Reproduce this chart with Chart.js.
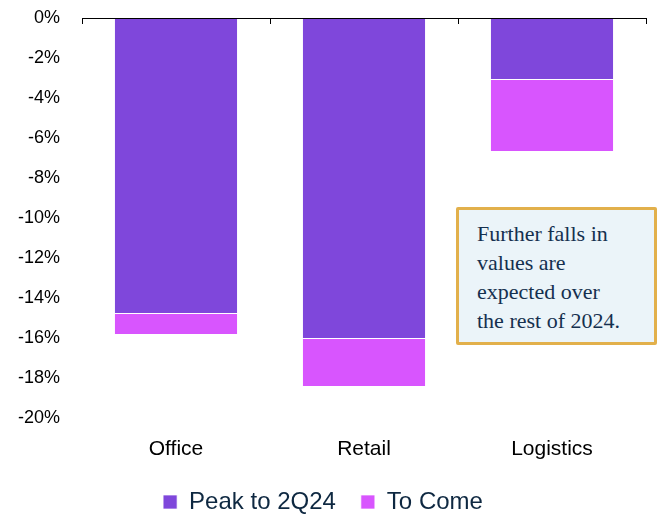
<!DOCTYPE html>
<html>
<head>
<meta charset="utf-8">
<script src="https://cdn.jsdelivr.net/npm/chart.js@4"></script>
<style>
  body { margin: 0; background: #fff; }
  #wrap { position: relative; width: 661px; height: 516px; }
  #note {
    position: absolute; left: 456px; top: 207px; width: 201px; height: 138px;
    box-sizing: border-box; border: 3px solid #e2b04b; background: #ebf4f9;
    border-radius: 2px;
    padding: 9px 6px 0 18px;
    font-family: "Liberation Serif", serif; font-size: 22px; line-height: 29px;
    color: #15304f;
  }
</style>
</head>
<body>
<div id="wrap">
  <canvas id="myChart"></canvas>
  <div id="note">Further falls in<br>values are<br>expected over<br>the rest of 2024.</div>
</div>
<script>
const categories = ['Office', 'Retail', 'Logistics'];
const peakTo2Q24 = [-14.8, -16.05, -3.1];
const toCome = [-1.05, -2.4, -3.6];
const yTicks = [0, -2, -4, -6, -8, -10, -12, -14, -16, -18, -20];

// x axis line sits at zero (top of chart) with ticks between categories
const topAxis = {
  id: 'topAxis',
  afterInit(chart) {
    // keep the legend compact even with wide gaps between items
    const legend = chart.legend;
    const fit = legend.fit.bind(legend);
    legend.fit = function () {
      fit();
      this.height = 51;
    };
  },
  afterDatasetsDraw(chart) {
    const { ctx, scales: { x, y } } = chart;
    const y0 = y.getPixelForValue(0);
    const half = (x.getPixelForTick(1) - x.getPixelForTick(0)) / 2;
    ctx.save();
    ctx.strokeStyle = '#000';
    ctx.lineWidth = 1;
    ctx.beginPath();
    ctx.moveTo(x.left, y0 + 0.5);
    ctx.lineTo(x.right, y0 + 0.5);
    for (let i = 0; i <= categories.length; i++) {
      const px = Math.round(x.getPixelForTick(0) - half + i * half * 2) + 0.5;
      ctx.moveTo(px, y0);
      ctx.lineTo(px, y0 + 6);
    }
    ctx.stroke();
    ctx.restore();
  }
};

const ctx = document.getElementById('myChart');
ctx.width = 661;
ctx.height = 516;
new Chart(ctx, {
  type: 'bar',
  data: {
    labels: categories,
    datasets: [{
      label: 'Peak to 2Q24',
      data: peakTo2Q24,
      backgroundColor: '#7f47db',
      borderColor: 'rgba(255,255,255,0.7)',
      borderWidth: 1,
      categoryPercentage: 1,
      barPercentage: 0.66
    }, {
      label: 'To Come',
      data: toCome,
      backgroundColor: '#d855fe',
      borderColor: 'rgba(255,255,255,0.7)',
      borderWidth: 1,
      categoryPercentage: 1,
      barPercentage: 0.66
    }]
  },
  plugins: [topAxis],
  options: {
    responsive: false,
    animation: false,
    layout: { padding: { top: 18, right: 15, bottom: 0, left: 0 } },
    scales: {
      x: {
        stacked: true,
        grid: { display: false, drawTicks: false },
        border: { display: false },
        ticks: { color: '#000', padding: 19, font: { family: 'Liberation Sans', size: 21 } },
        afterFit(scale) { scale.height = 47; }
      },
      y: {
        stacked: true,
        min: -20,
        max: 0,
        afterBuildTicks(scale) { scale.ticks = yTicks.map(v => ({ value: v })); },
        grid: { display: false, drawTicks: true, tickLength: 22 },
        border: { display: false },
        ticks: {
          color: '#000',
          padding: 0,
          font: { family: 'Liberation Sans', size: 18 },
          callback: v => v + '%'
        },
        afterFit(scale) { scale.width = 82; }
      }
    },
    plugins: {
      legend: {
        position: 'bottom',
        labels: {
          color: '#0e2841',
          boxWidth: 14,
          boxHeight: 14,
          padding: 25,
          font: { family: 'Liberation Sans', size: 24 }
        }
      },
      tooltip: { enabled: false }
    }
  }
});
</script>
</body>
</html>
